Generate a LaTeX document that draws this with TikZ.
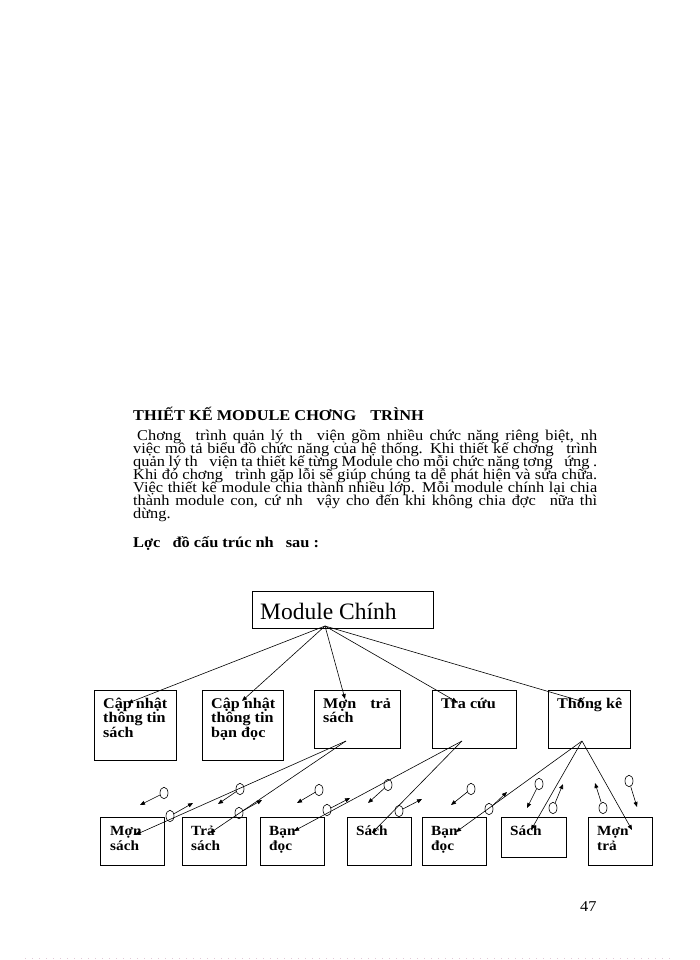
\documentclass[tikz,border=0pt]{standalone}
\usepackage{fontspec}
\setmainfont{Liberation Serif}[FakeStretch=1.09]
\newfontfamily\plainfont{Liberation Serif}
\usetikzlibrary{arrows.meta,shapes.geometric}
\definecolor{dotpink}{RGB}{225,200,215}
\tikzset{
  box/.style={draw=black, line width=0.8pt, inner sep=0pt, anchor=north west},
  lbl/.style={inner sep=0pt, anchor=base west, align=left, font=\bfseries\fontsize{14.8}{14.5}\selectfont},
  lblb/.style={inner sep=0pt, anchor=base west, align=left, font=\bfseries\fontsize{14}{15}\selectfont},
  txt/.style={inner sep=0pt, anchor=base west, font=\fontsize{15}{13}\selectfont},
  ttl/.style={inner sep=0pt, anchor=base west, font=\bfseries\fontsize{15}{13}\selectfont},
  conn/.style={line width=0.6pt, -{Triangle[length=5pt,width=4pt]}},
  couple/.style={draw, ellipse, minimum width=8pt, minimum height=11.5pt, inner sep=0pt, line width=0.6pt},
}
\begin{document}
\begin{tikzpicture}[x=1pt,y=-1pt]
\useasboundingbox (0,0) rectangle (700,960);
% ---------- text ----------
\node[ttl] (title) at (133,420) {THIẾT KẾ MODULE CHƠNG\hspace{10pt} TRÌNH};
\node[txt] (p1) at (133,440) {\makebox[464pt][s]{\hspace{4pt}Chơng\hspace{8pt} trình quản lý th\hspace{8pt} viện gồm nhiều chức năng riêng biệt, nh}};
\node[txt] (p2) at (133,453) {\makebox[464pt][s]{việc mô tả biểu đồ chức năng của hệ thống. Khi thiết kế chơng\hspace{8pt} trình}};
\node[txt] (p3) at (133,466) {\makebox[464pt][s]{quản lý th\hspace{8pt} viện ta thiết kế từng Module cho mỗi chức năng tơng\hspace{8pt} ứng .}};
\node[txt] (p4) at (133,479) {\makebox[464pt][s]{Khi đó chơng\hspace{8pt} trình gặp lỗi sẽ giúp chúng ta dễ phát hiện và sửa chữa.}};
\node[txt] (p5) at (133,492) {\makebox[464pt][s]{Việc thiết kế module chia thành nhiều lớp. Mỗi module chính lại chia}};
\node[txt] (p6) at (133,505) {\makebox[464pt][s]{thành module con, cứ nh\hspace{8pt} vậy cho đến khi không chia đợc\hspace{8pt} nữa thì}};
\node[txt] (p7) at (133,518) {dừng.};
\node[ttl] (lc) at (133,547) {Lợc\hspace{8pt} đồ cấu trúc nh\hspace{8pt} sau :};
\node[txt] (pg) at (580,911) {47};
\draw[dotpink, line width=1pt, dash pattern=on 1pt off 6pt] (25,958) coordinate (dl) -- (675,958) coordinate (dr);
% ---------- level 1 ----------
\node[box, minimum width=181pt, minimum height=37pt] (mod) at (252,591) {};
\node[inner sep=0pt, anchor=base west, font=\plainfont\fontsize{23.5}{23.5}\selectfont] (modl) at (260,619) {Module Chính};
\coordinate (apex) at (325,626);
% ---------- level 2 ----------
\node[box, minimum width=82pt, minimum height=70pt] (b1) at (94,690) {};
\node[box, minimum width=81pt, minimum height=70pt] (b2) at (202,690) {};
\node[box, minimum width=86pt, minimum height=58pt] (b3) at (314,690) {};
\node[box, minimum width=84pt, minimum height=58pt] (b4) at (432,690) {};
\node[box, minimum width=82pt, minimum height=58pt] (b5) at (548,690) {};
% multi-line labels: anchor is the baseline of the last line
\node[lbl] (b1l) at (103,737) {Cập nhật\\thông tin\\sách};
\node[lbl] (b2l) at (211,737) {Cập nhật\\thông tin\\bạn đọc};
\node[lbl] (b3l) at (323,722.5) {Mợn\hspace{10pt} trả\\sách};
\node[lbl] (b4l) at (441,708) {Tra cứu};
\node[lbl] (b5l) at (557,708) {Thống kê};
\coordinate (t1) at (128,703);
\coordinate (t2) at (242,701);
\coordinate (t3) at (345,699);
\coordinate (t4) at (457,702);
\coordinate (t5) at (584,702);
\foreach \t in {t1,t2,t3,t4,t5} \draw[conn] (apex) -- (\t);
% ---------- level 3 ----------
\node[box, minimum width=64pt, minimum height=48pt] (l1) at (100,817) {};
\node[box, minimum width=64pt, minimum height=48pt] (l2) at (182,817) {};
\node[box, minimum width=64pt, minimum height=48pt] (l3) at (260,817) {};
\node[box, minimum width=64pt, minimum height=48pt] (l4) at (347,817) {};
\node[box, minimum width=64pt, minimum height=48pt] (l5) at (422,817) {};
\node[box, minimum width=65pt, minimum height=40pt] (l6) at (501,817) {};
\node[box, minimum width=64pt, minimum height=48pt] (l7) at (588,817) {};
\node[lblb] (l1l) at (110,850) {Mợn\\sách};
\node[lblb] (l2l) at (191,850) {Trả\\sách};
\node[lblb] (l3l) at (269,850) {Bạn\\đọc};
\node[lblb] (l4l) at (356,835) {Sách};
\node[lblb] (l5l) at (431,850) {Bạn\\đọc};
\node[lblb] (l6l) at (510,835) {Sách};
\node[lblb] (l7l) at (597,850) {Mợn\\trả};
\coordinate (o3) at (346,741);
\coordinate (o4) at (462,741);
\coordinate (o5) at (582,741);
\coordinate (s1) at (135,835);
\coordinate (s2) at (210,833);
\coordinate (s3) at (294,831);
\coordinate (s4) at (372,833);
\coordinate (s5) at (456,832);
\coordinate (s6) at (531,830);
\coordinate (s7) at (632,830);
\draw[conn] (o3) -- (s1);
\draw[conn] (o3) -- (s2);
\draw[conn] (o4) -- (s3);
\draw[conn] (o4) -- (s4);
\draw[conn] (o5) -- (s5);
\draw[conn] (o5) -- (s6);
\draw[conn] (o5) -- (s7);
% ---------- data couples ----------
\foreach \n/\cx/\cy/\tx/\ty in {
  1/164/793/140/805, 2/240/789/218/804, 3/170/816/193/803, 4/239/813/262/800,
  5/319/790/297/803, 6/327/810/350/798, 7/388/785/368/803, 8/399/811/422/799,
  9/471/789/451/805, 10/489/809/507/792, 11/539/784/527/808, 12/553/808/563/784,
  13/603/808/595/783, 14/629/781/637/807}{
  \node[couple] (c\n) at (\cx,\cy) {};
  \coordinate (c\n t) at (\tx,\ty);
  \draw[conn] (c\n) -- (c\n t);
}
\end{tikzpicture}
\end{document}
